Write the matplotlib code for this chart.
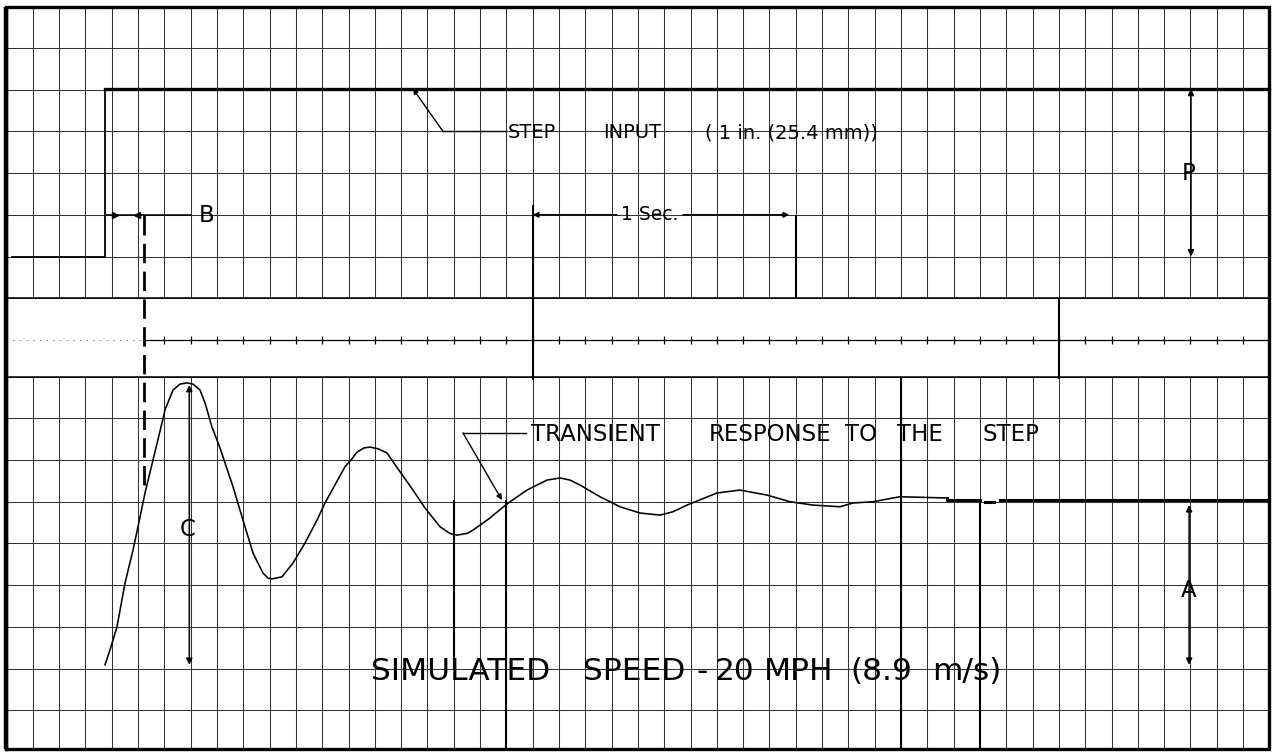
import numpy as np
import matplotlib
matplotlib.use("Agg")
import matplotlib.pyplot as plt

# chart paper: one minor division = 0.1 s across, one division up
SEC_PER_DIV = 0.1
N_XDIV = 48
CHART_T = (-0.0247, 4.810)        # visible paper, seconds
CHART_Y = (0.0, 18.03)            # visible paper, divisions

TOP_GRID = [10.88, 11.88, 12.88, 13.88, 14.88, 15.88, 16.88]
BOTTOM_GRID = [1, 2, 3, 4, 5, 6, 7, 8, 9]
EVENT_LINE = 9.88
FRAME_Y = (0.07, 17.86)

# step input pen (top channel)
step_t = [0.02, 0.375, 0.375, 4.80]
step_a = [11.88, 11.88, 15.90, 15.90]

# transient response pen (bottom channel)
resp_t = [0.3744, 0.3934, 0.4200, 0.4504, 0.4808, 0.4998, 0.5264, 0.5568,
          0.5910, 0.6024, 0.6328, 0.6594, 0.6851, 0.7090, 0.7354, 0.7545,
          0.7811, 0.8115, 0.8609, 0.8989, 0.9369, 0.9749, 0.9939, 1.0091,
          1.0471, 1.0890, 1.1345, 1.1802, 1.2106, 1.2866, 1.3132, 1.3322,
          1.3588, 1.3816, 1.4120, 1.4462, 1.4956, 1.5450, 1.5907, 1.6477,
          1.6857, 1.7123, 1.7503, 1.7731, 1.8377, 1.8833, 1.9137, 1.9783,
          2.0544, 2.1038, 2.1418, 2.1798, 2.2558, 2.3318, 2.4078, 2.4838,
          2.5332, 2.5865, 2.7005, 2.7879, 2.8906, 2.9780, 3.0654, 3.1680,
          3.2174, 3.2934, 3.3694, 3.3960, 3.5747]
resp_a = [2.09, 2.45, 3.00, 4.05, 4.84, 5.40, 6.21, 7.00,
          7.89, 8.20, 8.68, 8.82, 8.85, 8.82, 8.68, 8.37,
          7.79, 7.29, 6.36, 5.56, 4.77, 4.29, 4.17, 4.15,
          4.20, 4.53, 5.01, 5.56, 5.97, 6.84, 7.03, 7.19,
          7.29, 7.31, 7.27, 7.17, 6.72, 6.28, 5.85, 5.40,
          5.24, 5.20, 5.24, 5.32, 5.61, 5.85, 6.00, 6.28,
          6.52, 6.57, 6.52, 6.40, 6.12, 5.88, 5.73, 5.68,
          5.76, 5.92, 6.21, 6.28, 6.16, 6.00, 5.92, 5.88,
          5.97, 6.00, 6.09, 6.12, 6.09]

# settled part of the response (heavier pen)
settle_t = [3.575, 3.575, 3.70, np.nan, 3.72, 3.755, np.nan, 3.775, 4.80]
settle_a = [6.09, 6.03, 6.03, np.nan, 5.99, 5.99, np.nan, 6.03, 6.03]

# darker chart lines (time marks / heavier paper rulings)
mark_t = [2.0, 4.0, 3.0, 1.7, 1.9, 3.4, 3.7]
mark_lo = [8.92, 8.95, 10.88, 1.97, 0.07, 0.07, 0.07]
mark_hi = [13.12, 10.88, 12.88, 6.04, 6.05, 9.0, 6.03]

# dimension marks drawn on the record
P_MARK = (4.502, 11.88, 15.90)
A_MARK = (4.495, 2.09, 5.92)
C_MARK = (0.6948, 2.09, 8.80)
B_LINE = (0.375, 0.705, 12.88)
DASH_T, DASH_A = 0.521, (6.40, 12.88)
SEC_MARK = (2.0, 2.975, 12.88)

# lettering, word by word (start of each word, seconds along the paper)
step_words = ["STEP", "INPUT", "( 1 in. (25.4 mm))"]
step_word_t = [1.906, 2.267, 2.655]
trans_words = ["TRANSIENT", "RESPONSE", "TO", "THE", "STEP"]
trans_word_t = [1.993, 2.670, 3.187, 3.385, 3.708]
speed_words = ["SIMULATED", "SPEED", "-", "20", "MPH", "(8.9", "m/s)"]
speed_word_t = [1.385, 2.191, 2.624, 2.693, 2.879, 3.206, 3.517]


def main():
    plt.rcParams["font.family"] = ["DejaVu Sans"]
    fig = plt.figure(figsize=(12.72, 7.52), dpi=100)
    ax = fig.add_axes([0, 0, 1, 1])
    ax.set_xlim(*CHART_T)
    ax.set_ylim(*CHART_Y)
    ax.axis("off")

    gc = "#333333"
    t_end = N_XDIV * SEC_PER_DIV
    t_grid = np.arange(1, N_XDIV) * SEC_PER_DIV

    # chart paper grid
    ax.vlines(t_grid, TOP_GRID[0], FRAME_Y[1], color=gc, lw=0.75)
    ax.vlines(t_grid, FRAME_Y[0], BOTTOM_GRID[-1], color=gc, lw=0.75)
    ax.hlines(TOP_GRID, 0, t_end, color=gc, lw=0.75)
    ax.hlines(BOTTOM_GRID, 0, t_end, color=gc, lw=0.75)
    ax.hlines([TOP_GRID[0], BOTTOM_GRID[-1]], 0, t_end, color="k", lw=1.1)
    ax.vlines(mark_t, mark_lo, mark_hi, color="k", lw=1.5)

    # event marker line with ticks
    ax.hlines(EVENT_LINE, 0, 0.52, color="#777777", lw=0.6, linestyles=(0, (2, 6)))
    ax.hlines(EVENT_LINE, 0.52, t_end, color="k", lw=0.9)
    ticks = t_grid[t_grid > 0.55]
    ax.vlines(ticks, EVENT_LINE - 0.09, EVENT_LINE + 0.09, color="k", lw=0.9)

    # frame
    ax.plot([0, t_end, t_end, 0, 0],
            [FRAME_Y[0], FRAME_Y[0], FRAME_Y[1], FRAME_Y[1], FRAME_Y[0]],
            color="k", lw=2.4, solid_joinstyle="miter")
    ax.vlines(0, FRAME_Y[0], FRAME_Y[1], color="k", lw=3.2)

    # delay line (dashed)
    ax.vlines(DASH_T, DASH_A[0], DASH_A[1], color="k", lw=2.0,
              linestyles=(0, (7, 3)))

    # pens
    ax.plot(step_t, step_a, color="k", lw=1.3)
    ax.plot(step_t[2:], step_a[2:], color="k", lw=2.4)
    ax.plot(resp_t, resp_a, color="k", lw=1.15)
    ax.plot(settle_t, settle_a, color="k", lw=2.2)

    # dimension arrows
    arrow = dict(arrowstyle="<|-|>", lw=1.1, color="k", mutation_scale=9,
                 shrinkA=0, shrinkB=0)
    for t, lo, hi in [P_MARK, A_MARK, C_MARK]:
        ax.annotate("", xy=(t, hi), xytext=(t, lo), arrowprops=arrow)
    fs_lab = 16.5
    ax.text(P_MARK[0] - 0.01, 13.88, "P", fontsize=fs_lab, ha="center", va="center")
    ax.text(A_MARK[0], 3.88, "A", fontsize=fs_lab, ha="center", va="center")
    ax.text(C_MARK[0] - 0.005, 5.33, "C", fontsize=fs_lab, ha="center", va="center")

    # B: delay between step and response
    ax.hlines(B_LINE[2], B_LINE[0], B_LINE[1], color="k", lw=1.1)
    ax.plot([0.412], [B_LINE[2]], marker=">", ms=4, color="k")
    ax.plot([0.495], [B_LINE[2]], marker="<", ms=4, color="k")
    ax.text(0.759, 12.86, "B", fontsize=fs_lab, ha="center", va="center")

    # 1 second mark
    t0, t1, ys = SEC_MARK
    head = dict(arrowstyle="-|>", lw=1.1, color="k", mutation_scale=8,
                shrinkA=0, shrinkB=0)
    ax.annotate("", xy=(t0, ys), xytext=(2.32, ys), arrowprops=head)
    ax.annotate("", xy=(t1, ys), xytext=(2.571, ys), arrowprops=head)
    ax.text(2.3356, ys, "1 Sec.", fontsize=13.5, ha="left", va="center")

    # step input leader + note
    ax.plot([1.659, 1.895], [14.88, 14.88], color="k", lw=1.0)
    ax.annotate("", xy=(1.545, 15.90), xytext=(1.659, 14.88),
                arrowprops=dict(arrowstyle="-|>", lw=1.0, color="k",
                                mutation_scale=7, shrinkA=0, shrinkB=0))
    for w, t in zip(step_words, step_word_t):
        ax.text(t, 14.85, w, fontsize=14, ha="left", va="center")

    # transient leader + note
    ax.plot([1.975, 1.735], [7.65, 7.65], color="k", lw=1.0)
    ax.annotate("", xy=(1.883, 6.04), xytext=(1.735, 7.65),
                arrowprops=dict(arrowstyle="-|>", lw=1.0, color="k",
                                mutation_scale=8, shrinkA=0, shrinkB=0))
    for w, t in zip(trans_words, trans_word_t):
        ax.text(t, 7.62, w, fontsize=16.5, ha="left", va="center")

    for w, t in zip(speed_words, speed_word_t):
        ax.text(t, 1.92, w, fontsize=22.5, ha="left", va="center")

    fig.savefig("out.png", dpi=100, facecolor="white")


if __name__ == "__main__":
    main()
